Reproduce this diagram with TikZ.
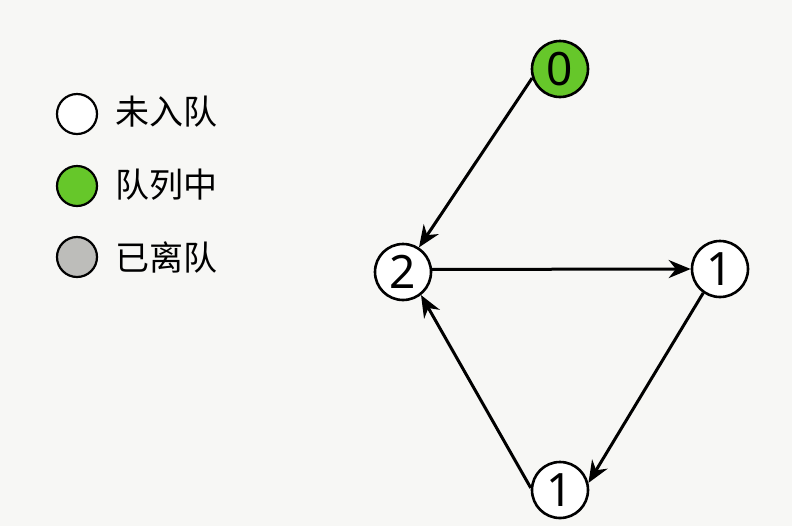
\documentclass[tikz,border=0pt]{standalone}
\usepackage{fontspec}
\setmainfont{Noto Sans}
\newfontfamily\cjk{Noto Sans CJK SC}
\usetikzlibrary{arrows.meta}
\definecolor{bgpaper}{HTML}{F7F7F5}
\definecolor{qgreen}{HTML}{66C72A}
\definecolor{qgray}{HTML}{BDBDBA}
\begin{document}
\begin{tikzpicture}[x=0.5pt,y=-0.5pt,
    qnode/.style={circle,draw=black,line width=1.3pt,fill=white,minimum size=28pt,inner sep=0pt,font=\fontsize{23}{23}\selectfont\bfseries},
    legdot/.style={circle,draw=black,line width=1.1pt,minimum size=20pt,inner sep=0pt},
    legtext/.style={anchor=west,inner sep=0pt,font=\cjk\fontsize{17}{17}\selectfont},
    edge/.style={line width=1.5pt,-{Stealth[length=11pt,width=9pt]}}]
            \fill[bgpaper] (0,0) rectangle (792,526);
            \useasboundingbox (0,0) rectangle (792,526);
            % legende
            \node[legdot,fill=white] (l1) at (77,114) {};
            \node[legdot,fill=qgreen] (l2) at (77,186) {};
            \node[legdot,fill=qgray] (l3) at (77,257) {};
            \node[legtext] (t1) at (115,112) {未入队};
            \node[legtext] (t2) at (115,185) {队列中};
            \node[legtext] (t3) at (115,257) {已离队};
            % graphe
            \node[qnode,fill=qgreen] (n0) at (560,69) {0};
            \node[qnode] (n2) at (403,272) {2};
            \node[qnode] (nr) at (720,269) {1};
            \node[qnode] (nb) at (560,490) {1};
            \draw[edge] (n0.198) -- (n2.57);
            \draw[edge] (n2.5) -- (nr.180);
            \draw[edge] (nr.235) -- (nb.14);
            \draw[edge] (nb.176) -- (n2.-52);
        \end{tikzpicture}
\end{document}
